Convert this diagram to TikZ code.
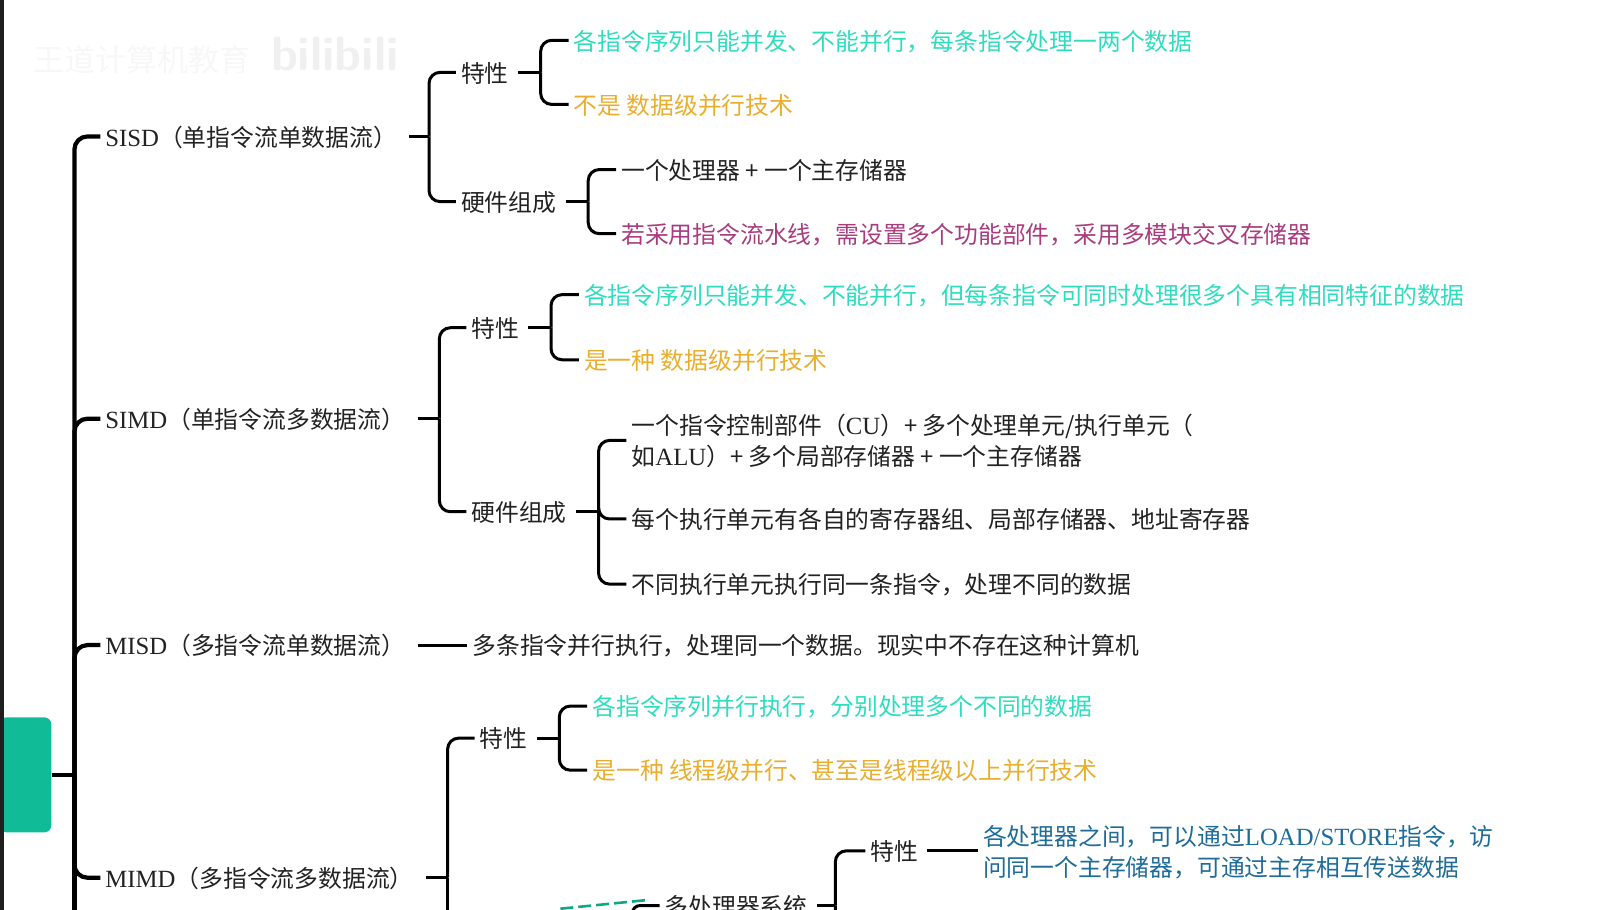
\documentclass[tikz,border=0pt]{standalone}
\usepackage{fontspec}
\setmainfont[Scale=1.04]{Liberation Serif}
\newfontfamily\cjk{Noto Sans CJK SC}
\newcommand{\zh}[1]{{\cjk #1}}
\definecolor{tealtx}{HTML}{2FDDBE}
\definecolor{orangetx}{HTML}{E9AE2E}
\definecolor{purpletx}{HTML}{A83C7E}
\definecolor{bluetx}{HTML}{1F6C98}
\definecolor{inktx}{HTML}{222222}
\definecolor{rootfill}{HTML}{10BB98}
\tikzset{
  x=1.0338pt,y=-1.0338pt,
  lab/.style={anchor=west,inner xsep=5pt,inner ysep=0pt,text=inktx,align=left,font=\fontsize{23.8pt}{31pt}\selectfont,text height=19.6pt,text depth=0pt},
  twolines/.style={lab,text height=50.8pt,text depth=0pt},
  conn/.style={line width=3pt,black,rounded corners=11pt},
  trunk/.style={line width=4.2pt,black,rounded corners=13pt}
}
\newcommand{\kids}[4][conn]{% style, parent, junction x, children
  \coordinate (j#2) at (#3,0);
  \draw[#1] ([xshift=4pt]#2.east) -- (#2.east -| j#2);
  \foreach \c in {#4} { \draw[#1] (#2.east -| j#2) |- (\c.west); }
}
\begin{document}
\begin{tikzpicture}
\useasboundingbox (0,0) rectangle (1568,880.2);
\clip (0,0) rectangle (1568,880.2);
% faint watermark
\node[anchor=west,text=black!3,font=\fontsize{31pt}{31pt}\selectfont\cjk,inner sep=0pt] (wm1) at (32,58) {王道计算机教育};
\node[anchor=west,text=black!6,font=\fontsize{48pt}{48pt}\selectfont\bfseries\sffamily,inner sep=0pt] (wm2) at (262,52) {bilibili};
% nodes
\node[fill=rootfill,rounded corners=7pt,minimum width=52pt,minimum height=115pt,inner sep=0pt] (root) at (24.5,749.5) {};
\coordinate (rootoff) at (72,920);
% level 1
\node[lab] (sisd) at (97,132) {SISD\zh{（单指令流单数据流）}\hspace{3pt}};
\node[lab] (simd) at (97,405) {SIMD\zh{（单指令流多数据流）}\hspace{3pt}};
\node[lab] (misd) at (97,624) {MISD\zh{（多指令流单数据流）}\hspace{3pt}};
\node[lab] (mimd) at (97,849) {MIMD\zh{（多指令流多数据流）}\hspace{3pt}};
% SISD
\node[lab] (a1) at (441,70) {\zh{特性}};
\node[lab] (a2) at (441,195) {\zh{硬件组成}};
\node[lab,text=tealtx] (a11) at (550,39) {\zh{各指令序列只能并发、不能并行，每条指令处理一两个数据}};
\node[lab,text=orangetx] (a12) at (550,101) {\zh{不是 数据级并行技术}};
\node[lab] (a21) at (596,164) {\zh{一个处理器 + 一个主存储器}};
\node[lab,text=purpletx] (a22) at (596,226) {\zh{若采用指令流水线，需设置多个功能部件，采用多模块交叉存储器}};
% SIMD
\node[lab] (b1) at (451,317) {\zh{特性}};
\node[lab] (b2) at (451,495) {\zh{硬件组成}};
\node[lab,text=tealtx] (b11) at (560,285) {\zh{各指令序列只能并发、不能并行，但每条指令可同时处理很多个具有相同特征的数据}};
\node[lab,text=orangetx] (b12) at (560,348) {\zh{是一种 数据级并行技术}};
\node[twolines] (b21) at (606,426) {\zh{一个指令控制部件（}CU\zh{）+ 多个处理单元/执行单元（}\\\zh{如}ALU\zh{）+ 多个局部存储器 + 一个主存储器}};
\node[lab] (b22) at (606,502) {\zh{每个执行单元有各自的寄存器组、局部存储器、地址寄存器}};
\node[lab] (b23) at (606,565) {\zh{不同执行单元执行同一条指令，处理不同的数据}};
% MISD
\node[lab] (c1) at (452,624) {\zh{多条指令并行执行，处理同一个数据。现实中不存在这种计算机}};
% MIMD
\node[lab] (d1) at (459,714) {\zh{特性}};
\node[lab,text=tealtx] (d11) at (568,683) {\zh{各指令序列并行执行，分别处理多个不同的数据}};
\node[lab,text=orangetx] (d12) at (568,745) {\zh{是一种 线程级并行、甚至是线程级以上并行技术}};
\node[lab] (d2) at (638,876) {\zh{多处理器系统}};
\node[lab] (d21) at (837,823) {\zh{特性}};
\node[twolines,text=bluetx] (d211) at (946,823) {\zh{各处理器之间，可以通过}LOAD/STORE\zh{指令，访}\\\zh{问同一个主存储器，可通过主存相互传送数据}};
\coordinate (d22) at (837,930);
\coordinate (dbot) at (433,930);
% trunk
\coordinate (jr) at (72,0);
\draw[trunk] (root.east) -- (root.east -| jr);
\foreach \c in {sisd,simd,misd,mimd} \draw[trunk] (root.east -| jr) |- (\c.west);
\draw[trunk] (root.east -| jr) -- (rootoff);
% left screen edge
\fill[black!88] (0,0) rectangle (4,880.2);
% branches
\kids{sisd}{415}{a1,a2}
\kids{a1}{523}{a11,a12}
\kids{a2}{569}{a21,a22}
\kids{simd}{425}{b1,b2}
\kids{b1}{533}{b11,b12}
\kids{b2}{579}{b21,b22,b23}
\draw[conn] ([xshift=4pt]misd.east) -- (c1.west);
\kids{mimd}{433}{d1,dbot}
\kids{d1}{541}{d11,d12}
\kids{d2}{808}{d21,d22}
\draw[conn] ([xshift=4pt]d21.east) -- (d211.west);
% stub into the partly hidden branch
\coordinate (dd) at (612,886);
\draw[conn,rounded corners=7pt] (dd) |- (d2.west);
\coordinate (de1) at (542,879);
\coordinate (de2) at (627,870.5);
\draw[line width=2.6pt,rootfill!90!black,dash pattern=on 13pt off 5pt] (de1) -- (de2);
\end{tikzpicture}
\end{document}
